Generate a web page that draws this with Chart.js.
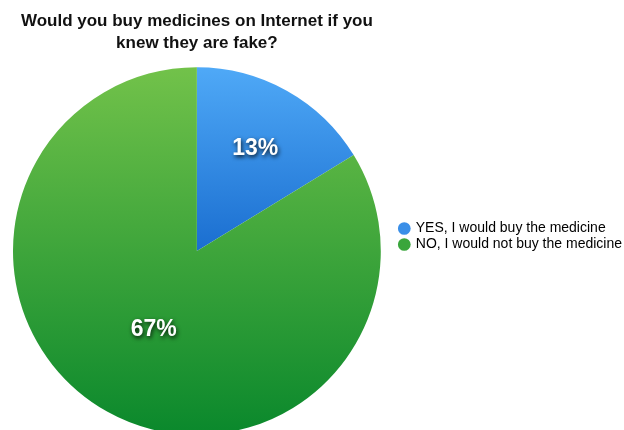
<!DOCTYPE html>
<html>
<head>
<meta charset="utf-8">
<script src="https://cdn.jsdelivr.net/npm/chart.js@4"></script>
<style>
  html, body { margin: 0; padding: 0; background: #fff; overflow: hidden; }
  #wrap { width: 624px; height: 430px; overflow: hidden; position: relative; }
</style>
</head>
<body>
<div id="wrap"><canvas id="chart" width="624" height="440"></canvas></div>
<script>
const titleLines = ['Would you buy medicines on Internet if you', 'knew they are fake?'];
const categories = ['YES, I would buy the medicine', 'NO, I would not buy the medicine'];
const values = [13, 67];
const valueLabels = ['13%', '67%'];

// top / bottom gradient stops of each slice
const topColors = ['#4fa9f7', '#72c24a'];
const bottomColors = ['#0f5ec4', '#0a882c'];
const legendColors = ['#3a8fe8', '#3aa63c'];

function sliceGradient(context) {
    const chart = context.chart;
    const area = chart.chartArea;
    if (!area) return legendColors[context.dataIndex];
    const i = context.dataIndex;
    const cy = (area.top + area.bottom) / 2;
    const r = Math.min(area.right - area.left, area.bottom - area.top) / 2;
    const g = chart.ctx.createLinearGradient(0, cy - r, 0, cy + r);
    if (i === 0) {
        g.addColorStop(0, topColors[0]);
        g.addColorStop(0.5, '#1a6ed0');
        g.addColorStop(1, bottomColors[0]);
    } else {
        g.addColorStop(0, topColors[1]);
        g.addColorStop(1, bottomColors[1]);
    }
    return g;
}

// shadowed white percent labels inside slices
const sliceLabels = {
    id: 'sliceLabels',
    afterDatasetsDraw(chart, args, opts) {
        const ctx = chart.ctx;
        const meta = chart.getDatasetMeta(0);
        meta.data.forEach((arc, i) => {
            const mid = (arc.startAngle + arc.endAngle) / 2;
            const r = arc.outerRadius * opts.radius[i];
            const x = arc.x + Math.cos(mid) * r;
            const y = arc.y + Math.sin(mid) * r;
            ctx.save();
            ctx.font = 'bold 23px "Liberation Sans", Arial, sans-serif';
            ctx.textAlign = 'center';
            ctx.textBaseline = 'middle';
            ctx.shadowColor = 'rgba(0,0,0,0.85)';
            ctx.shadowBlur = 4;
            ctx.shadowOffsetX = 1;
            ctx.shadowOffsetY = 2;
            ctx.fillStyle = '#ffffff';
            ctx.fillText(valueLabels[i], x, y + 2);
            ctx.restore();
        });
    }
};

// nudge legend to sit where the reference has it
const legendShift = {
    id: 'legendShift',
    afterLayout(chart, args, opts) {
        const l = chart.legend;
        if (l) {
            l.top += opts.dy;
            l.bottom += opts.dy;
            l.left += opts.dx;
            l.right += opts.dx;
        }
    }
};

const ctx = document.getElementById('chart').getContext('2d');
new Chart(ctx, {
    type: 'pie',
    data: {
        labels: categories,
        datasets: [{
            data: values,
            backgroundColor: sliceGradient,
            borderWidth: 0,
            hoverOffset: 0
        }]
    },
    plugins: [sliceLabels, legendShift],
    options: {
        responsive: false,
        animation: false,
        layout: { padding: { left: 4, right: 0, top: 0, bottom: 5 } },
        plugins: {
            title: {
                display: true,
                text: titleLines,
                fullSize: false,
                color: '#111',
                font: { family: '"Liberation Sans", Arial, sans-serif', size: 17, weight: 'bold', lineHeight: 1.3 },
                padding: { top: 10, bottom: 13 }
            },
            legend: {
                position: 'right',
                labels: {
                    usePointStyle: true,
                    pointStyle: 'circle',
                    boxWidth: 9,
                    boxHeight: 9,
                    padding: 2,
                    color: '#111',
                    font: { family: '"Liberation Sans", Arial, sans-serif', size: 14 },
                    generateLabels(chart) {
                        return categories.map((c, i) => ({
                            text: c,
                            fillStyle: legendColors[i],
                            strokeStyle: legendColors[i],
                            lineWidth: 0,
                            pointStyle: 'circle',
                            hidden: false,
                            index: i
                        }));
                    }
                }
            },
            tooltip: { enabled: false },
            sliceLabels: { radius: [0.65, 0.48] },
            legendShift: { dy: 19, dx: 8 }
        }
    }
});
</script>
</body>
</html>
